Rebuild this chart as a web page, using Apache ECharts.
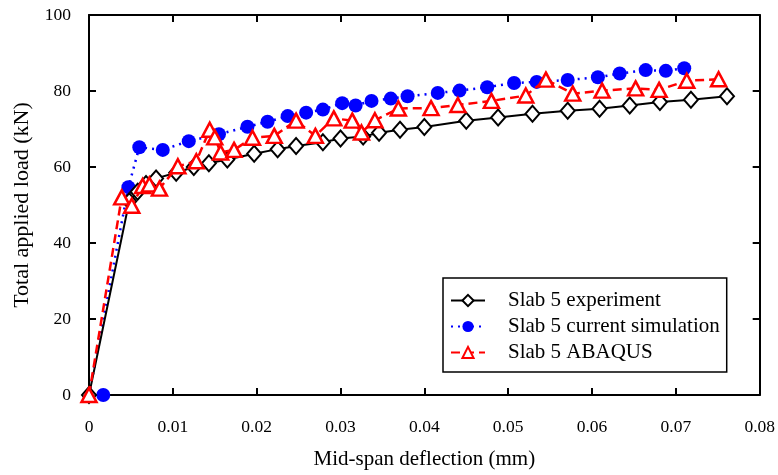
<!DOCTYPE html>
<html>
<head>
<meta charset="utf-8">
<script src="https://cdn.jsdelivr.net/npm/echarts@6/dist/echarts.min.js"></script>
<style>html,body{margin:0;padding:0;background:#fff}#c{width:778px;height:475px}</style>
</head>
<body>
<div id="c"></div>
<script>
// ---- data (deflection mm, load kN) ----
var seriesNames = ['Slab 5 experiment', 'Slab 5 current simulation', 'Slab 5 ABAQUS'];
var xTickValues = [0, 0.01, 0.02, 0.03, 0.04, 0.05, 0.06, 0.07, 0.08];
var yTickValues = [0, 20, 40, 60, 80, 100];

var expX = [0, 0.0048, 0.0058, 0.0068, 0.0080, 0.0104, 0.0125, 0.0143, 0.0165, 0.0197, 0.0225, 0.0247, 0.0279, 0.0300, 0.0327, 0.0346, 0.0371, 0.0400, 0.0450, 0.0488, 0.0529, 0.0571, 0.0609, 0.0645, 0.0681, 0.0718, 0.0761];
var expY = [0, 51, 53.5, 55.5, 57, 58.5, 60, 61, 62, 63.5, 64.7, 65.5, 66.5, 67.5, 68, 69, 69.8, 70.5, 72.2, 73, 74, 74.8, 75.3, 76.2, 77.1, 77.7, 78.6];

var simX = [0.0017, 0, 0.0047, 0.0060, 0.0088, 0.0119, 0.0155, 0.0189, 0.0213, 0.0237, 0.0259, 0.0279, 0.0302, 0.0318, 0.0337, 0.0360, 0.0380, 0.0416, 0.0442, 0.0475, 0.0507, 0.0534, 0.0571, 0.0607, 0.0633, 0.0664, 0.0688, 0.0710];
var simY = [0, 0, 54.7, 65.2, 64.5, 66.8, 68.6, 70.6, 71.9, 73.4, 74.3, 75.1, 76.8, 76.2, 77.4, 78, 78.6, 79.5, 80.1, 81, 82.1, 82.4, 82.9, 83.6, 84.6, 85.5, 85.3, 86];
var simHiddenMarker = [false, true, false, false, false, false, false, false, false, false, false, false, false, false, false, false, false, false, false, false, false, false, false, false, false, false, false, false];

var abqX = [0, 0.0039, 0.0051, 0.0064, 0.0072, 0.0084, 0.0106, 0.0128, 0.0144, 0.0150, 0.0157, 0.0173, 0.0195, 0.0221, 0.0247, 0.0270, 0.0292, 0.0314, 0.0325, 0.0341, 0.0369, 0.0408, 0.0440, 0.0480, 0.0521, 0.0545, 0.0577, 0.0612, 0.0652, 0.0680, 0.0713, 0.0751];
var abqY = [0, 52, 49.8, 55, 55.4, 54.3, 60.2, 61.5, 69.8, 67.8, 63.8, 64.5, 67.7, 68.2, 72.2, 68.2, 72.8, 72.2, 69.1, 72.3, 75.4, 75.5, 76.3, 77.4, 78.8, 83, 79.3, 80.1, 80.7, 80.3, 82.7, 83.1];

function pairs(xs, ys, hidden) {
  return xs.map(function (x, i) {
    var item = { value: [x, ys[i]] };
    if (hidden && hidden[i]) item.symbolSize = 0;
    return item;
  });
}

var FONT = 'Liberation Serif';
var chart = echarts.init(document.getElementById('c'), null, { renderer: 'canvas' });

function fmtX(v) { return v === 0 ? '0' : (+v.toFixed(2)).toString(); }

function axLine() { return { show: true, onZero: false, lineStyle: { color: '#000', width: 2 } }; }
function axTick() { return { show: true, inside: true, length: 7, lineStyle: { color: '#000', width: 2 } }; }

chart.setOption({
  animation: false,
  backgroundColor: '#fff',
  grid: { left: 89, right: 15, top: 15, bottom: 75, containLabel: false },
  xAxis: [{
    type: 'value', min: xTickValues[0], max: xTickValues[xTickValues.length - 1], interval: 0.01,
    position: 'bottom',
    name: 'Mid-span deflection (mm)', nameLocation: 'middle', nameGap: 54,
    nameTextStyle: { fontFamily: FONT, fontSize: 21, color: '#000' },
    axisLine: axLine(), axisTick: axTick(), splitLine: { show: false },
    axisLabel: { formatter: fmtX, fontFamily: FONT, fontSize: 17.5, color: '#000', margin: 23 }
  }, {
    type: 'value', min: xTickValues[0], max: xTickValues[xTickValues.length - 1], interval: 0.01,
    position: 'top', axisLine: axLine(), axisTick: axTick(), splitLine: { show: false },
    axisLabel: { show: false }
  }],
  yAxis: [{
    type: 'value', min: yTickValues[0], max: yTickValues[yTickValues.length - 1], interval: 20,
    position: 'left',
    name: 'Total applied load (kN)', nameLocation: 'middle', nameGap: 56, nameRotate: 90,
    nameTextStyle: { fontFamily: FONT, fontSize: 22, color: '#000' },
    axisLine: axLine(), axisTick: axTick(), splitLine: { show: false },
    axisLabel: { fontFamily: FONT, fontSize: 17.5, color: '#000', margin: 18 }
  }, {
    type: 'value', min: yTickValues[0], max: yTickValues[yTickValues.length - 1], interval: 20,
    position: 'right', axisLine: axLine(), axisTick: axTick(), splitLine: { show: false },
    axisLabel: { show: false }
  }],
  legend: {
    orient: 'vertical', left: 443, top: 278,
    padding: [12, 7, 9, 7],
    borderColor: '#000', borderWidth: 1.5, backgroundColor: '#fff',
    itemWidth: 34, itemHeight: 14, itemGap: 5,
    textStyle: { fontFamily: FONT, fontSize: 21, lineHeight: 21, color: '#000', padding: [0, 0, 0, 18] },
    data: seriesNames
  },
  series: [{
    name: seriesNames[1], type: 'line', xAxisIndex: 0, yAxisIndex: 0,
    data: pairs(simX, simY, simHiddenMarker),
    symbol: 'circle', symbolSize: 14, showAllSymbol: true,
    lineStyle: { color: '#0000ff', width: 2.5, type: [2, 5] },
    itemStyle: { color: '#0000ff', borderWidth: 0 }, z: 2
  }, {
    name: seriesNames[0], type: 'line', xAxisIndex: 0, yAxisIndex: 0,
    data: pairs(expX, expY),
    symbol: 'diamond', symbolSize: [14, 16], showAllSymbol: true,
    lineStyle: { color: '#000', width: 2 },
    itemStyle: { color: '#fff', borderColor: '#000', borderWidth: 2 }, z: 3
  }, {
    name: seriesNames[2], type: 'line', xAxisIndex: 0, yAxisIndex: 0,
    data: pairs(abqX, abqY),
    symbol: 'triangle', symbolSize: [15, 14], showAllSymbol: true,
    lineStyle: { color: '#ff0000', width: 2.5, type: [9, 5] },
    itemStyle: { color: '#fff', borderColor: '#ff0000', borderWidth: 2.5 }, z: 4
  }]
});
</script>
</body>
</html>
